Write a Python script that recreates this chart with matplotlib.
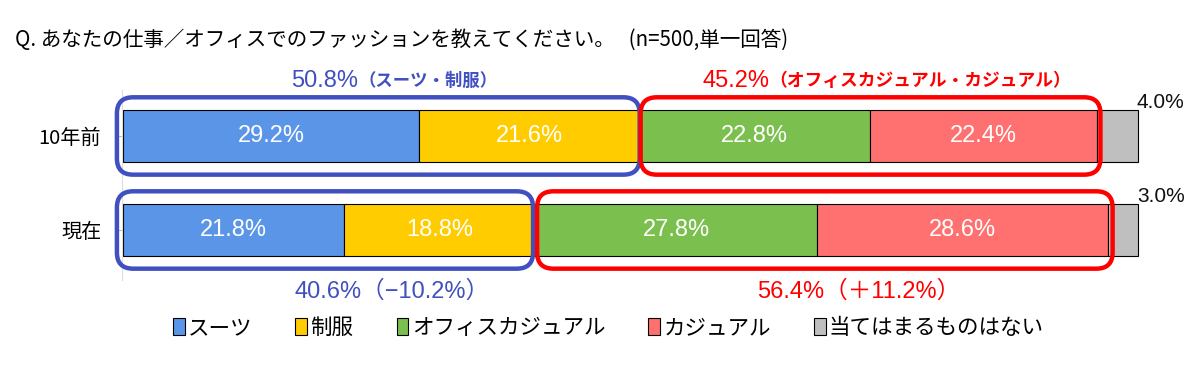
import matplotlib
matplotlib.use("Agg")
import matplotlib.pyplot as plt
from matplotlib.patches import FancyBboxPatch, Patch
import numpy as np

plt.rcParams['font.family'] = ['Noto Sans CJK JP', 'DejaVu Sans']
num_font = ['Liberation Sans', 'Noto Sans CJK JP']  # 数字はHelvetica風に

# データ
periods = ['10年前', '現在']
categories = ['スーツ', '制服', 'オフィスカジュアル', 'カジュアル', '当てはまるものはない']
past = [29.2, 21.6, 22.8, 22.4, 4.0]
now = [21.8, 18.8, 27.8, 28.6, 3.0]
colors = ['#5B95E8', '#FFCC00', '#7BC04E', '#FF7070', '#BFBFBF']

title = 'Q. あなたの仕事／オフィスでのファッションを教えてください。   (n=500,単一回答)'
blue = '#4150C0'
red = '#FF0000'

fig = plt.figure(figsize=(12, 3.76), dpi=100)
ax = fig.add_axes([123/1200, 1-280/376, (1138-123)/1200, 190/376])

ys = [1, 0]  # 10年前 上, 現在 下
h = 0.553
rows = [past, now]
for y, vals in zip(ys, rows):
    left = 0
    for i, v in enumerate(vals):
        ax.barh(y, v, left=left, height=h, color=colors[i], edgecolor='black',
                linewidth=0.8, clip_on=False)
        if i < 4:
            ax.text(left + v/2, y, f'{v:.1f}%', ha='center', va='center', color='white',
                    fontsize=17, family=num_font)
        left += v
    # 残りの％はバーの右上
    ax.text(99.9, y + 0.36, f'{vals[4]:.1f}%', ha='left', va='center', fontsize=15,
            color='#111111', family=num_font)

ax.set_xlim(0, 100)
ax.set_ylim(-0.532, 1.489)
ax.set_yticks(ys)
ax.set_yticklabels(periods)
ax.tick_params(axis='y', length=3, color='#BBBBBB', pad=12, labelsize=14.5)
ax.set_xticks([])
for s in ['top', 'right', 'bottom']:
    ax.spines[s].set_visible(False)
ax.spines['left'].set_color('#DDDDDD')
ax.spines['left'].set_position(('data', -0.1))

# 角丸の枠
fig.canvas.draw()
p0 = ax.transData.transform((0, 0))
p1 = ax.transData.transform((1, 1))
aspect = (p1[0]-p0[0]) / (p1[1]-p0[1])

def rbox(x0, x1, y, col):
    bh = h + 0.27
    b = FancyBboxPatch((x0, y - bh/2), x1 - x0, bh,
                       boxstyle='round,pad=0,rounding_size=1.6',
                       mutation_aspect=aspect, fill=False, edgecolor=col,
                       linewidth=3.2, clip_on=False, zorder=5)
    ax.add_patch(b)

c1 = np.cumsum(past)
c2 = np.cumsum(now)
rbox(-0.6, c1[1] + 0.1, 1, blue)
rbox(c1[1] + 0.2, c1[3] + 0.3, 1, red)
rbox(-0.6, c2[1] - 0.2, 0, blue)
rbox(c2[1] + 0.2, c2[3] + 0.5, 0, red)

# 合計ラベル
top_y = 1 + 0.59
ax.text(23.2, top_y, f'{c1[1]:.1f}%', ha='right', va='center', color=blue,
        fontsize=17, family=num_font, clip_on=False)
ax.text(23.2, top_y, '（スーツ・制服）', ha='left', va='center', color=blue,
        fontsize=12.5, fontweight='bold', clip_on=False)
ax.text(63.7, top_y, f'{c1[3]-c1[1]:.1f}%', ha='right', va='center', color=red,
        fontsize=17, family=num_font, clip_on=False)
ax.text(63.7, top_y, '（オフィスカジュアル・カジュアル）', ha='left', va='center', color=red,
        fontsize=12.8, fontweight='bold', clip_on=False)

bot_y = -0.65
d_suit = c2[1] - c1[1]
d_cas = (c2[3] - c2[1]) - (c1[3] - c1[1])
ax.text(26.5, bot_y, f'{c2[1]:.1f}%（−{abs(d_suit):.1f}%）', ha='center', va='center',
        color=blue, fontsize=17, family=num_font, clip_on=False)
ax.text(72.5, bot_y, f'{c2[3]-c2[1]:.1f}%（＋{d_cas:.1f}%）', ha='center', va='center',
        color=red, fontsize=17, family=num_font, clip_on=False)

fig.text(15/1200, 1-40/376, title, ha='left', va='center', fontsize=14.8)

handles = [Patch(facecolor=c, edgecolor='black', linewidth=0.8) for c in colors]
fig.legend(handles, categories, loc='center', bbox_to_anchor=(0.507, 1-328/376), ncol=5,
           frameon=False, fontsize=15.5, handlelength=0.55, handleheight=0.85,
           handletextpad=0.15, columnspacing=2.0)

fig.savefig('out.png', dpi=100)
